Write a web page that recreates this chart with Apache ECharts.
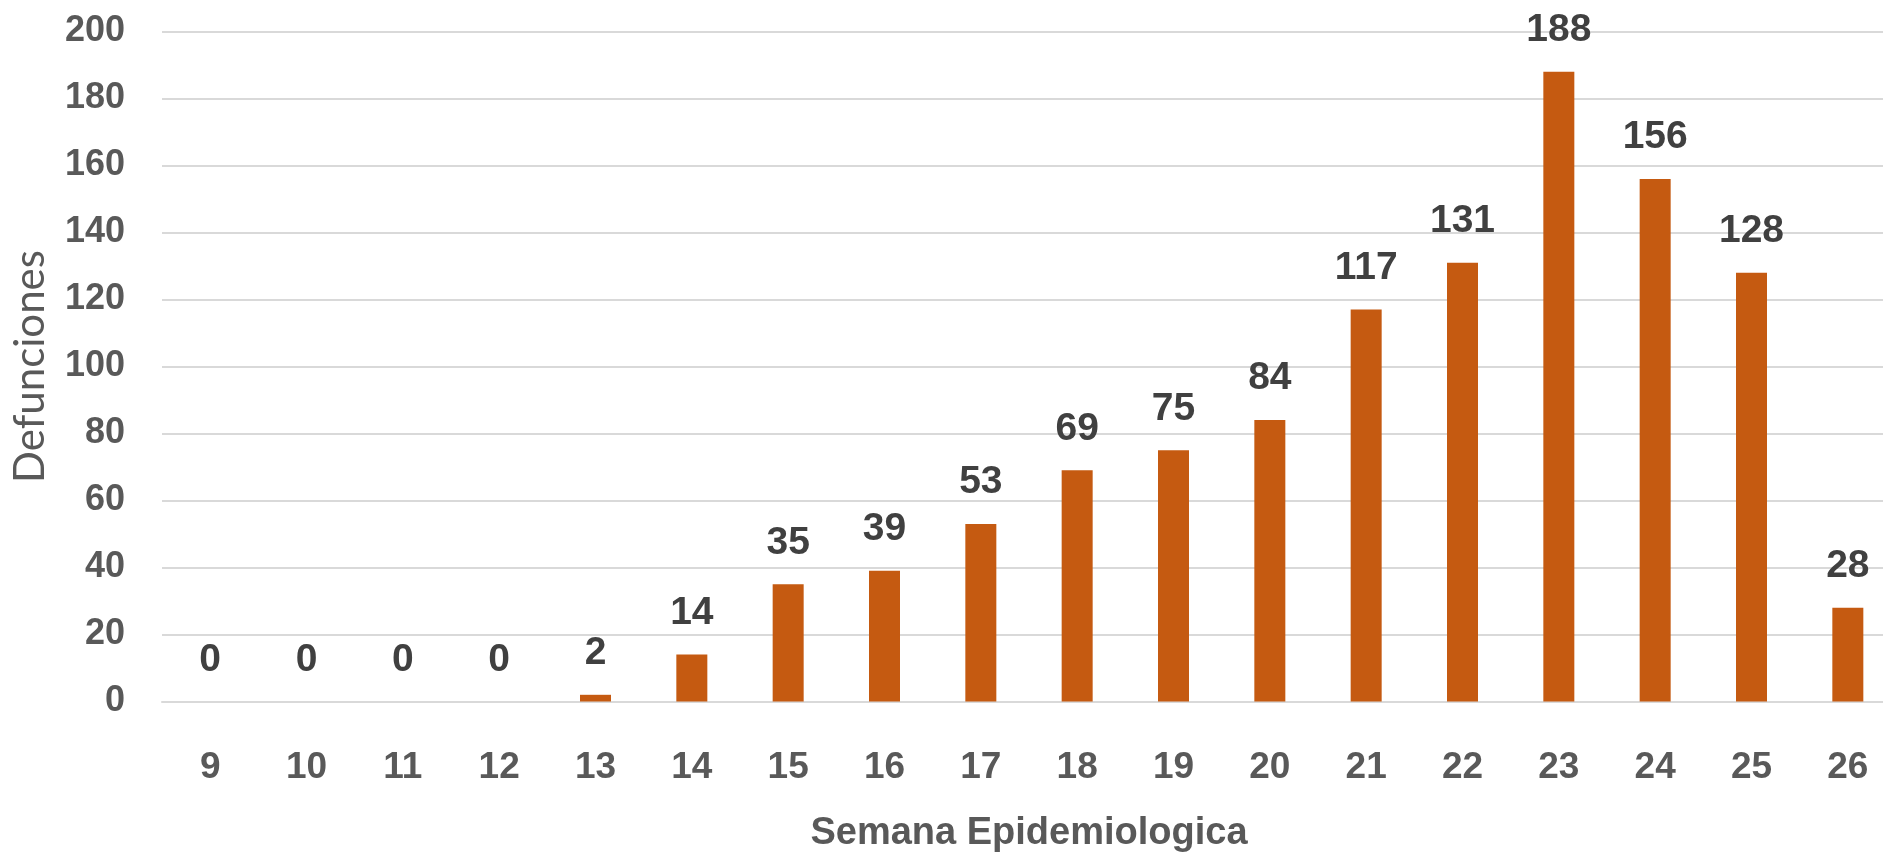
<!DOCTYPE html>
<html>
<head>
<meta charset="utf-8">
<script src="https://cdn.jsdelivr.net/npm/echarts@6/dist/echarts.min.js"></script>
<style>
html,body{margin:0;padding:0;background:#fff;}
#chart{width:1883px;height:852px;}
</style>
</head>
<body>
<div id="chart"></div>
<script>
const categories = ['9','10','11','12','13','14','15','16','17','18','19','20','21','22','23','24','25','26'];
const defunciones = [0,0,0,0,2,14,35,39,53,69,75,84,117,131,188,156,128,28];
const yTicks = {min:0, max:200, interval:20};
const xTitle = 'Semana Epidemiologica';
const yTitle = 'Defunciones';

const boldFont = "'Liberation Sans', Arial, sans-serif";

const chart = echarts.init(document.getElementById('chart'), null, {renderer:'canvas'});
chart.setOption({
  animation:false,
  backgroundColor:'#ffffff',
  grid:{left:162, top:31.5, width:1734, height:670, containLabel:false, outerBoundsMode:'none'},
  xAxis:{
    type:'category',
    data:categories,
    boundaryGap:true,
    axisLine:{show:true, lineStyle:{color:'#D9D9D9', width:2}},
    axisTick:{show:false},
    axisLabel:{color:'#595959', fontFamily:boldFont, fontWeight:'bold', fontSize:37, margin:66, verticalAlign:'middle', interval:0},
    name:xTitle,
    nameLocation:'middle',
    nameGap:132,
    nameTextStyle:{color:'#595959', fontFamily:boldFont, fontWeight:'bold', fontSize:38, verticalAlign:'middle'}
  },
  yAxis:{
    type:'value',
    min:yTicks.min, max:yTicks.max, interval:yTicks.interval,
    axisLine:{show:false},
    axisTick:{show:false},
    splitLine:{show:true, lineStyle:{color:'#D9D9D9', width:2}},
    axisLabel:{color:'#595959', fontFamily:boldFont, fontWeight:'bold', fontSize:36, margin:37},
    name:yTitle,
    nameLocation:'middle',
    nameGap:132,
    nameTextStyle:{color:'#595959', fontFamily:"Lato, 'Liberation Sans', sans-serif", fontWeight:'normal', fontSize:42, verticalAlign:'middle'}
  },
  series:[{
    type:'bar',
    data:defunciones,
    barWidth:31,
    itemStyle:{color:'#C55A11'},
    label:{show:true, position:'top', distance:22, color:'#404040', fontFamily:boldFont, fontWeight:'bold', fontSize:39}
  }]
});
</script>
</body>
</html>
